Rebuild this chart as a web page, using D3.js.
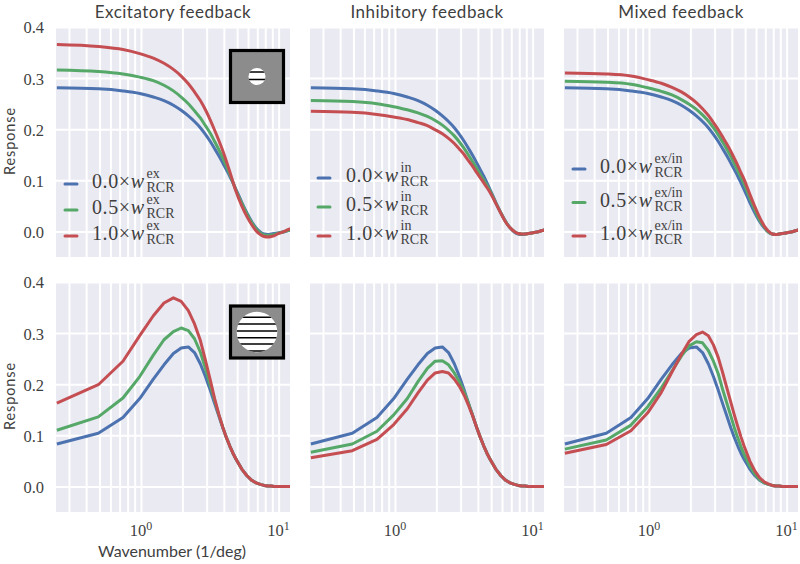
<!DOCTYPE html>
<html><head><meta charset="utf-8">
<script src="https://cdnjs.cloudflare.com/ajax/libs/d3/7.8.5/d3.min.js"></script>
<style>html,body{margin:0;padding:0;background:#fff}svg{display:block}</style>
</head><body><svg id="c" width="800" height="564"></svg>
<script>
const wavenumber=[.245,.49,.74,.98,1.23,1.47,1.72,1.96,2.21,2.45,2.7,2.94,3.19,3.43,3.68,3.93,4.17,4.42,4.66,4.91,5.4,5.89,6.38,6.87,7.36,7.85,8.35,8.84,9.33,9.82,10.8,11.8,12.3];
const topBlue=[.281,.279,.275,.270,.263,.256,.247,.237,.226,.215,.203,.190,.176,.162,.148,.134,.121,.108,.095,.082,.057,.036,.019,.007,-.001,-.005,-.006,-.005,-.004,-.003,-.001,.002,.003];
const exTopGreen=[.316,.313,.308,.302,.295,.286,.275,.263,.250,.236,.222,.207,.192,.176,.160,.144,.128,.112,.096,.080,.055,.034,.017,.005,-.003,-.007,-.008,-.007,-.006,-.004,-.001,.002,.003];
const exTopRed=[.366,.362,.356,.348,.339,.329,.317,.304,.289,.273,.256,.238,.218,.198,.178,.158,.138,.117,.097,.078,.050,.029,.013,.001,-.006,-.010,-.011,-.010,-.008,-.005,-.001,.004,.006];
const inTopGreen=[.256,.254,.250,.244,.238,.232,.225,.217,.208,.198,.187,.175,.162,.149,.136,.123,.111,.100,.090,.079,.056,.036,.019,.007,0,-.004,-.005,-.005,-.004,-.003,-.001,.002,.003];
const inTopRed=[.235,.233,.229,.224,.219,.213,.207,.199,.191,.182,.172,.161,.150,.138,.127,.115,.105,.095,.086,.076,.055,.035,.018,.007,0,-.004,-.005,-.005,-.004,-.003,-.001,.002,.003];
const mixTopGreen=[.294,.292,.288,.281,.274,.267,.258,.249,.239,.228,.216,.203,.189,.175,.161,.147,.133,.119,.106,.093,.066,.042,.022,.009,-.001,-.005,-.006,-.005,-.004,-.003,-.001,.002,.003];
const mixTopRed=[.310,.308,.304,.297,.290,.282,.273,.263,.252,.240,.227,.213,.199,.185,.171,.157,.143,.129,.115,.102,.073,.048,.027,.011,.001,-.005,-.006,-.005,-.004,-.003,-.001,.002,.003];
const botBlue=[.083,.104,.135,.172,.210,.238,.260,.271,.273,.262,.240,.215,.188,.162,.138,.115,.096,.079,.065,.053,.034,.021,.012,.007,.004,.002,.001,.001,0,0,0,0,0];
const exBotGreen=[.110,.136,.173,.215,.257,.287,.303,.310,.305,.289,.263,.231,.198,.168,.140,.116,.096,.079,.065,.053,.034,.021,.012,.007,.004,.002,.001,.001,0,0,0,0,0];
const exBotRed=[.163,.199,.245,.295,.334,.359,.369,.362,.344,.318,.286,.247,.208,.172,.141,.116,.096,.079,.065,.053,.034,.021,.012,.007,.004,.002,.001,.001,0,0,0,0,0];
const inBotGreen=[.067,.083,.108,.140,.172,.205,.231,.245,.246,.238,.222,.205,.184,.162,.138,.115,.096,.079,.065,.053,.034,.021,.012,.007,.004,.002,.001,.001,0,0,0,0,0];
const inBotRed=[.056,.070,.092,.121,.152,.183,.208,.222,.225,.222,.210,.196,.178,.158,.137,.115,.096,.079,.065,.053,.034,.021,.012,.007,.004,.002,.001,.001,0,0,0,0,0];
const mixBotGreen=[.073,.091,.120,.156,.193,.226,.255,.275,.283,.281,.266,.245,.220,.190,.163,.138,.115,.095,.078,.063,.040,.024,.013,.007,.004,.002,.001,.001,0,0,0,0,0];
const mixBotRed=[.065,.082,.109,.144,.184,.224,.258,.284,.297,.302,.295,.277,.252,.223,.193,.165,.140,.117,.097,.079,.050,.030,.017,.009,.005,.002,.001,.001,0,0,0,0,0];
const titles=["Excitatory feedback","Inhibitory feedback","Mixed feedback"];
const legendFactors=["0.0","0.5","1.0"];
const legendSups=["ex","in","ex/in"];
const yTicks=[0,.1,.2,.3,.4];
const xGridTicks=[.3,.4,.5,.6,.7,.8,.9,1,2,3,4,5,6,7,8,9,10];
const xMajor=[[1,"0"],[10,"1"]];
const colors=["#4C72B0","#55A868","#C44E52"];
const stripesSmall=[-4.5,3];
const stripesLarge=[-14.7,-8,-1,5.7,12,19];

const cols=[56,310,564], rows=[27,282], W=234, H=230;
const legendLayout=[{hx:65,tx:92,y0:184,dy:26},{hx:318,tx:346,y0:178,dy:29},{hx:573,tx:600,y0:169,dy:33.5}];
const seriesGrid=[
 [[topBlue,exTopGreen,exTopRed],[topBlue,inTopGreen,inTopRed],[topBlue,mixTopGreen,mixTopRed]],
 [[botBlue,exBotGreen,exBotRed],[botBlue,inBotGreen,inBotRed],[botBlue,mixBotGreen,mixBotRed]]];
const sans="Lato, 'Open Sans', sans-serif", serif="'Liberation Serif', serif", ink="#3f3f3f";
const x=d3.scaleLog().domain([.2415,12.1]).range([0,W]);
const y=d3.scaleLinear().domain([-.05,.4]).range([H,0]);
const line=d3.line().x(d=>x(d[0])).y(d=>y(d[1]));
const svg=d3.select("#c");
const defs=svg.append("defs");
defs.append("clipPath").attr("id","pc").append("rect").attr("width",W).attr("height",H);

rows.forEach((ry,r)=>cols.forEach((cx,c)=>{
 const g=svg.append("g").attr("transform",`translate(${cx},${ry})`);
 g.append("rect").attr("width",W).attr("height",H).attr("fill","#EAEAF2");
 const gx=g.append("g").attr("transform",`translate(0,${H})`).call(d3.axisBottom(x).tickValues(xGridTicks).tickSize(H).tickFormat(""));
 gx.selectAll("line").attr("y2",-H).attr("stroke","#fff").attr("stroke-width",2);
 gx.select(".domain").remove();
 const gy=g.append("g").call(d3.axisLeft(y).tickValues(yTicks).tickSize(-W).tickFormat(d3.format(".1f")));
 gy.select(".domain").remove();
 gy.selectAll("line").attr("stroke","#fff").attr("stroke-width",2);
 gy.selectAll("text").attr("x",-12).attr("dy","0.36em").attr("font-family",serif).attr("font-size",16.5).attr("fill",ink).style("display",c===0?null:"none");
 const lines=g.append("g").attr("clip-path","url(#pc)");
 seriesGrid[r][c].forEach((vals,i)=>{
  lines.append("path").datum(vals.map((v,j)=>[wavenumber[j],v])).attr("d",(r===0?line.curve(d3.curveMonotoneX):line.curve(d3.curveLinear))).attr("fill","none")
   .attr("stroke",colors[i]).attr("stroke-width",3).attr("stroke-linejoin","round");
 });
 if(r===0) svg.append("text").attr("x",cx+W/2).attr("y",17.5).attr("text-anchor","middle")
   .attr("font-family",sans).attr("font-size",17).attr("letter-spacing",0.5).attr("fill",ink).text(titles[c]);
 if(c===0) svg.append("text").attr("transform",`translate(14.5,${ry+H/2-1}) rotate(-90)`).attr("text-anchor","middle")
   .attr("font-family",sans).attr("font-size",14.5).attr("letter-spacing",0.9).attr("fill",ink).text("Response");
 if(r===1){
  xMajor.forEach(([v,e])=>{
   const t=svg.append("text").attr("x",cx+x(v)).attr("y",536).attr("text-anchor","middle")
     .attr("font-family",serif).attr("font-size",16.5).attr("fill",ink);
   t.append("tspan").text("10");
   t.append("tspan").attr("dy",-6).attr("font-size",12).text(e);
  });
 }
 if(r===0){
  const L=legendLayout[c];
  legendFactors.forEach((f,i)=>{
   const ly=L.y0+i*L.dy;
   svg.append("line").attr("x1",L.hx).attr("x2",L.hx+12).attr("y1",ly).attr("y2",ly)
     .attr("stroke",colors[i]).attr("stroke-width",3).attr("stroke-linecap","round");
   const tg=svg.append("g").attr("font-family",serif).attr("fill",ink);
   const t=tg.append("text").attr("x",L.tx).attr("y",ly+4).attr("font-size",20).attr("letter-spacing",0.6);
   t.append("tspan").text(f+"\u00d7");
   t.append("tspan").attr("font-style","italic").text("w");
   const tx2=L.tx+54.5;
   tg.append("text").attr("x",tx2).attr("y",ly-6).attr("font-size",14).text(legendSups[c]);
   tg.append("text").attr("x",tx2).attr("y",ly+8).attr("font-size",14).text("RCR");
  });
 }
}));
svg.append("text").attr("x",172).attr("y",557).attr("text-anchor","middle")
  .attr("font-family",sans).attr("font-size",16).attr("fill",ink).text("Wavenumber (1/deg)");
function inset(cy,r,stripes,id){
 const bx=229,bw=56,by=cy-27.5,bh=55;
 const g=svg.append("g");
 g.append("rect").attr("x",bx+1.5).attr("y",by+1.5).attr("width",bw-3).attr("height",bh-3)
  .attr("fill","#8c8c8c").attr("stroke","#000").attr("stroke-width",3.2);
 g.append("circle").attr("cx",257).attr("cy",cy).attr("r",r).attr("fill","#fff");
 defs.append("clipPath").attr("id",id).append("circle").attr("cx",257).attr("cy",cy).attr("r",r);
 g.append("g").attr("clip-path",`url(#${id})`).selectAll("line").data(stripes).join("line")
  .attr("x1",257-r).attr("x2",257+r).attr("y1",d=>cy+d).attr("y2",d=>cy+d)
  .attr("stroke","#000").attr("stroke-width",1.6);
}
inset(76.5,8.5,stripesSmall,"s1");
inset(332,20.3,stripesLarge,"s2");
</script></body></html>
